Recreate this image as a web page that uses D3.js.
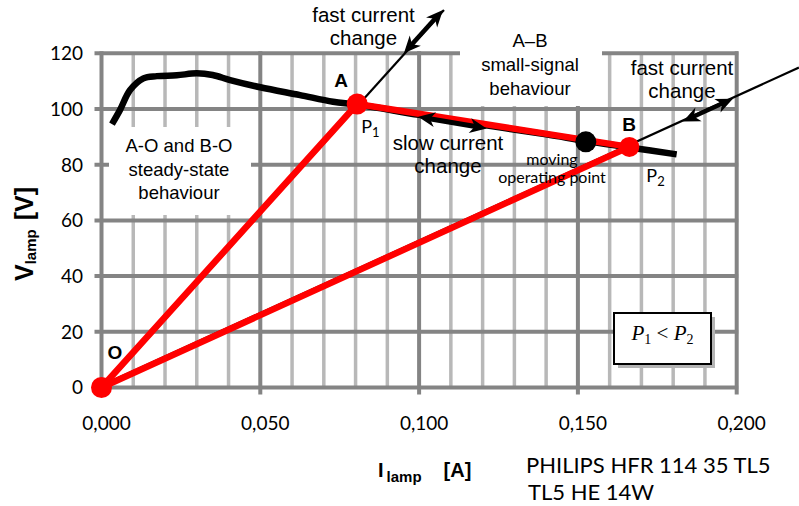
<!DOCTYPE html>
<html><head><meta charset="utf-8">
<script src="https://cdn.jsdelivr.net/npm/d3@7"></script>
<style>body{margin:0;background:#fff} svg{display:block}</style>
</head><body><svg id="c" width="799" height="506"></svg>
<script>
// ---------- data ----------
const xTickValues = [0, 0.05, 0.10, 0.15, 0.20];
const xTickLabels = ["0,000", "0,050", "0,100", "0,150", "0,200"];
const xMinorValues = [0.01,0.02,0.03,0.04,0.06,0.07,0.08,0.09,0.11,0.12,0.13,0.14,0.16,0.17,0.18,0.19];
const yTickValues = [0, 20, 40, 60, 80, 100, 120];
const yTickLabels = ["0", "20", "40", "60", "80", "100", "120"];

// steady-state V-I characteristic of the lamp
const curveCurrent = [0.0033, 0.0058, 0.009, 0.0132, 0.0174, 0.0237, 0.030, 0.035, 0.0405, 0.050, 0.0625, 0.0729, 0.0805, 0.100, 0.120, 0.140, 0.1525, 0.1662, 0.1811];
const curveVoltage = [94.6, 99.6, 106.8, 111.0, 111.8, 112.1, 112.8, 112.2, 110.4, 107.8, 105.0, 102.6, 101.6, 97.9, 94.3, 90.9, 88.5, 86.2, 83.7];

// operating points O, A, B
const pointNames = ["O", "A", "B"];
const pointCurrent = [0, 0.0805, 0.1662];
const pointVoltage = [0, 101.8, 86.4];
const movingCurrent = [0.1525];
const movingVoltage = [88.2];

// extensions of the load lines O-A and O-B (current where the thin line ends)
const loadLineEndCurrent = [0.1072, 0.2196];
// double arrows
const fastArrowACurrent = [0.0949, 0.1072];
const fastArrowBCurrent = [0.1831, 0.1988];
const slowArrowCurrent = [0.0997, 0.1213];
const slowArrowVoltage = [97.2, 93.0];

// ---------- scales ----------
const svg = d3.select("#c");
const x = d3.scaleLinear().domain([0, 0.2]).range([101.5, 736.7]);
const y = d3.scaleLinear().domain([0, 120]).range([387.5, 53.3]);

const SANS = "'Liberation Sans', Arial, sans-serif";
const CAL = "Lato, 'Open Sans', sans-serif";

// ---------- grid ----------
const grid = svg.append("g");
grid.selectAll("line.minor").data(xMinorValues).join("line")
  .attr("x1", d => x(d)).attr("x2", d => x(d))
  .attr("y1", y(120)).attr("y2", y(0))
  .attr("stroke", "#b8b8b8").attr("stroke-width", 3.5);
grid.selectAll("line.h").data(yTickValues).join("line")
  .attr("x1", x(0) - 7).attr("x2", x(0.2) + 1.5)
  .attr("y1", d => y(d)).attr("y2", d => y(d))
  .attr("stroke", "#848484").attr("stroke-width", 4);
grid.selectAll("line.major").data(xTickValues).join("line")
  .attr("x1", d => x(d)).attr("x2", d => x(d))
  .attr("y1", y(120) - 2).attr("y2", y(0) + 7)
  .attr("stroke", "#848484").attr("stroke-width", 4);

// white backgrounds behind the two region labels
svg.append("rect").attr("x", 109).attr("y", 127).attr("width", 142).attr("height", 88).attr("fill", "#fff");
svg.append("rect").attr("x", 460).attr("y", 0).attr("width", 142).attr("height", 106).attr("fill", "#fff");

// ---------- tick labels ----------
svg.append("g").selectAll("text").data(yTickValues).join("text")
  .attr("x", 83).attr("y", d => y(d)).attr("dy", "0.36em")
  .attr("text-anchor", "end").attr("font-family", CAL).attr("font-size", 19)
  .text((d, i) => yTickLabels[i]);
svg.append("g").selectAll("text").data(xTickValues).join("text")
  .attr("x", d => x(d) + 5).attr("y", 430)
  .attr("text-anchor", "middle").attr("font-family", CAL).attr("font-size", 19)
  .text((d, i) => xTickLabels[i]);

// ---------- thin load lines (under red) ----------
const slopeA = pointVoltage[1] / pointCurrent[1];
const slopeB = pointVoltage[2] / pointCurrent[2];
svg.append("line")
  .attr("x1", x(0) + 2).attr("y1", y(0))
  .attr("x2", x(loadLineEndCurrent[0]) + 2).attr("y2", y(loadLineEndCurrent[0] * slopeA))
  .attr("stroke", "#000").attr("stroke-width", 2.2);
svg.append("line")
  .attr("x1", x(0)).attr("y1", y(0) - 2)
  .attr("x2", x(loadLineEndCurrent[1])).attr("y2", y(loadLineEndCurrent[1] * slopeB) - 2)
  .attr("stroke", "#000").attr("stroke-width", 2.2);

// ---------- steady-state curve ----------
const curveData = curveCurrent.map((c, i) => [c, curveVoltage[i]]);
svg.append("path").datum(curveData)
  .attr("d", d3.line().x(d => x(d[0])).y(d => y(d[1])).curve(d3.curveCatmullRom))
  .attr("fill", "none").attr("stroke", "#000").attr("stroke-width", 6.5)
  .attr("stroke-linecap", "butt").attr("stroke-linejoin", "round");

// ---------- red load lines ----------
const P = pointNames.map((n, i) => ({ n, c: pointCurrent[i], v: pointVoltage[i] }));
const red = [[P[0], P[1]], [P[0], P[2]], [P[1], P[2]]];
svg.append("g").selectAll("line").data(red).join("line")
  .attr("x1", d => x(d[0].c)).attr("y1", d => y(d[0].v))
  .attr("x2", d => x(d[1].c)).attr("y2", d => y(d[1].v))
  .attr("stroke", "#ff0000").attr("stroke-width", 6.5).attr("stroke-linecap", "round");

// ---------- arrows ----------
function arrowHead(g, tx, ty, ang) {
  g.append("path").attr("d", "M0,0 L-17,-7.5 L-12,0 L-17,7.5 Z")
    .attr("transform", `translate(${tx},${ty}) rotate(${ang * 180 / Math.PI})`)
    .attr("fill", "#000");
}
function doubleArrow(x1, y1, x2, y2, w) {
  const g = svg.append("g");
  const a = Math.atan2(y2 - y1, x2 - x1);
  g.append("line").attr("x1", x1 + 10 * Math.cos(a)).attr("y1", y1 + 10 * Math.sin(a))
    .attr("x2", x2 - 10 * Math.cos(a)).attr("y2", y2 - 10 * Math.sin(a))
    .attr("stroke", "#000").attr("stroke-width", w);
  arrowHead(g, x2, y2, a);
  arrowHead(g, x1, y1, a + Math.PI);
}
doubleArrow(x(fastArrowACurrent[0]) + 1, y(fastArrowACurrent[0] * slopeA), x(fastArrowACurrent[1]) + 1, y(fastArrowACurrent[1] * slopeA), 4.5);
doubleArrow(x(fastArrowBCurrent[0]), y(fastArrowBCurrent[0] * slopeB) - 1, x(fastArrowBCurrent[1]), y(fastArrowBCurrent[1] * slopeB) - 1, 4.5);
doubleArrow(x(slowArrowCurrent[0]), y(slowArrowVoltage[0]), x(slowArrowCurrent[1]), y(slowArrowVoltage[1]), 5);

// ---------- points ----------
svg.append("circle").attr("cx", x(movingCurrent[0])).attr("cy", y(movingVoltage[0])).attr("r", 10.5).attr("fill", "#000");
svg.append("g").selectAll("circle").data(P).join("circle")
  .attr("cx", d => x(d.c)).attr("cy", d => y(d.v)).attr("r", (d, i) => i === 2 ? 10 : 10.5)
  .attr("fill", "#ff0000");

// ---------- annotation text ----------
function lines(arr, cx, y0, dy, size, font, weight) {
  const t = svg.append("text").attr("text-anchor", "middle").attr("font-family", font)
    .attr("font-size", size).attr("font-weight", weight || "normal");
  arr.forEach((s, i) => t.append("tspan").attr("x", cx).attr("y", y0 + i * dy).text(s));
}
lines(["fast current", "change"], 363.5, 22, 23, 20.5, SANS);
lines(["fast current", "change"], 682, 75, 23, 20.5, SANS);
lines(["slow current", "change"], 448, 150, 23, 20.5, SANS);
lines(["A–B", "small-signal", "behaviour"], 530, 47, 24, 18.5, SANS);
lines(["A-O and B-O", "steady-state", "behaviour"], 179, 152, 23.5, 18.5, SANS);
lines(["moving", "operating point"], 552, 165, 18, 16, CAL);

const bold = (s, px, py, size) => svg.append("text").attr("x", px).attr("y", py)
  .attr("font-family", SANS).attr("font-weight", "bold").attr("font-size", size).text(s);
bold("A", x(P[1].c) - 23, y(P[1].v) - 17, 19);
bold("B", x(P[2].c) - 7, y(P[2].v) - 16, 19);
bold("O", x(P[0].c) + 6, y(P[0].v) - 29, 19);

function pLabel(idx, px, py) {
  const t = svg.append("text").attr("x", px).attr("y", py).attr("font-family", CAL).attr("font-size", 18);
  t.append("tspan").text("P");
  t.append("tspan").attr("font-size", 13).attr("dy", 4).text(idx);
}
pLabel("1", x(P[1].c) + 4, y(P[1].v) + 29);
pLabel("2", x(P[2].c) + 17, y(P[2].v) + 35);

// P1 < P2 box
const bx = 614, by = 313, bw = 97, bh = 51;
svg.append("rect").attr("x", bx + 4).attr("y", by + 4).attr("width", bw).attr("height", bh).attr("fill", "#b4b4b4");
svg.append("rect").attr("x", bx).attr("y", by).attr("width", bw).attr("height", bh)
  .attr("fill", "#fff").attr("stroke", "#000").attr("stroke-width", 2);
const pt = svg.append("text").attr("x", bx + bw / 2).attr("y", 340).attr("text-anchor", "middle")
  .attr("font-family", "'Liberation Serif', 'Times New Roman', serif").attr("font-size", 21);
pt.append("tspan").attr("font-style", "italic").text("P");
pt.append("tspan").attr("font-size", 14).attr("dy", 4).text("1");
pt.append("tspan").attr("dy", -4).text(" < ");
pt.append("tspan").attr("font-style", "italic").text("P");
pt.append("tspan").attr("font-size", 14).attr("dy", 4).text("2");

// ---------- axis titles ----------
const yl = svg.append("text").attr("transform", "translate(33,281) rotate(-90)")
  .attr("font-family", SANS).attr("font-weight", "bold").attr("font-size", 25);
yl.append("tspan").text("V");
yl.append("tspan").attr("font-size", 15).attr("dy", 3).text("lamp");
yl.append("tspan").attr("dy", -3).attr("dx", 9).text("[V]");

const xl = svg.append("text").attr("x", 378).attr("y", 477)
  .attr("font-family", SANS).attr("font-weight", "bold").attr("font-size", 20);
xl.append("tspan").text("I");
xl.append("tspan").attr("font-size", 15).attr("dy", 5).attr("dx", 3).text("lamp");
xl.append("tspan").attr("dy", -5).attr("dx", 22).text("[A]");

svg.append("text").attr("x", 526).attr("y", 473).attr("font-family", CAL).attr("font-size", 22).text("PHILIPS HFR 114 35 TL5");
svg.append("text").attr("x", 528).attr("y", 500).attr("font-family", CAL).attr("font-size", 22).text("TL5 HE 14W");
</script>
</body></html>
